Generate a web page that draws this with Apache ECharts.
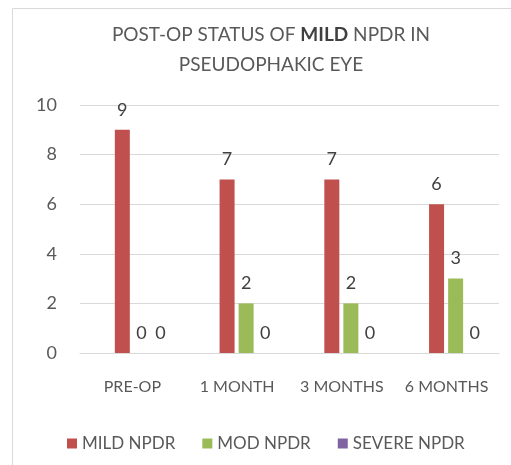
<!DOCTYPE html>
<html>
<head>
<meta charset="utf-8">
<script src="https://cdn.jsdelivr.net/npm/echarts@6/dist/echarts.min.js"></script>
<style>
    html, body { margin: 0; padding: 0; background: #fff; }
    #chart { width: 511px; height: 465px; }
</style>
</head>
<body>
<div id="chart"></div>
<script>
    var categories = ['PRE-OP', '1 MONTH', '3 MONTHS', '6 MONTHS'];
    var mildData = [9, 7, 7, 6];
    var modData = [0, 2, 2, 3];
    var severeData = [0, 0, 0, 0];
    var yTicks = [0, 2, 4, 6, 8, 10];

    var txt = '#404040';
    var font = 'Lato, "Open Sans", sans-serif';

    var chart = echarts.init(document.getElementById('chart'));

    function barSeries(name, data, color) {
        return {
            name: name,
            type: 'bar',
            xAxisIndex: 1,
            yAxisIndex: 1,
            data: data,
            barWidth: 15,
            barGap: '27%',
            itemStyle: { color: color },
            label: {
                show: true,
                position: 'top',
                distance: 11,
                color: txt,
                fontFamily: font,
                fontSize: 18
            }
        };
    }

    var option = {
        animation: false,
        textStyle: { fontFamily: font },
        graphic: [{
            type: 'rect',
            shape: { x: 12.5, y: 8.5, width: 520, height: 480 },
            style: { fill: 'none', stroke: '#d9d9d9', lineWidth: 1 },
            silent: true
        }],
        title: {
            text: 'POST-OP STATUS OF {b|MILD} NPDR IN\nPSEUDOPHAKIC EYE',
            left: 266,
            textAlign: 'center',
            top: 15,
            textStyle: {
                color: '#595959',
                fontFamily: font,
                fontSize: 19,
                fontWeight: 'normal',
                lineHeight: 30,
                rich: {
                    b: { fontWeight: 'bold', fontSize: 19, color: '#404040', fontFamily: font }
                }
            }
        },
        legend: {
            bottom: 8,
            left: 62,
            itemWidth: 10,
            itemHeight: 10,
            itemGap: 27,
            icon: 'rect',
            textStyle: { color: '#595959', fontFamily: font, fontSize: 17 },
            data: ['MILD NPDR', 'MOD NPDR', 'SEVERE NPDR']
        },
        // grid 0 draws the axes and gridlines, grid 1 holds the bars (Excel shifts the groups right)
        grid: [
            { left: 80, right: 12, top: 105, bottom: 112 },
            { left: 89, right: 3, top: 105, bottom: 112 }
        ],
        xAxis: [{
            gridIndex: 0,
            type: 'category',
            data: categories,
            axisLine: { show: true, lineStyle: { color: '#d9d9d9' } },
            axisTick: { show: false },
            axisLabel: { color: '#595959', fontFamily: font, fontSize: 16, margin: 26, interval: 0 }
        }, {
            gridIndex: 1,
            type: 'category',
            data: categories,
            show: false
        }],
        yAxis: [{
            gridIndex: 0,
            type: 'value',
            min: yTicks[0],
            max: yTicks[yTicks.length - 1],
            interval: 2,
            axisLine: { show: false },
            axisTick: { show: false },
            splitLine: { lineStyle: { color: '#d9d9d9' } },
            axisLabel: { color: '#595959', fontFamily: font, fontSize: 18, margin: 23 }
        }, {
            gridIndex: 1,
            type: 'value',
            min: yTicks[0],
            max: yTicks[yTicks.length - 1],
            interval: 2,
            show: false
        }],
        series: [
            barSeries('MILD NPDR', mildData, '#C0504D'),
            barSeries('MOD NPDR', modData, '#9BBB59'),
            barSeries('SEVERE NPDR', severeData, '#8064A2')
        ]
    };

    chart.setOption(option);
</script>
</body>
</html>
